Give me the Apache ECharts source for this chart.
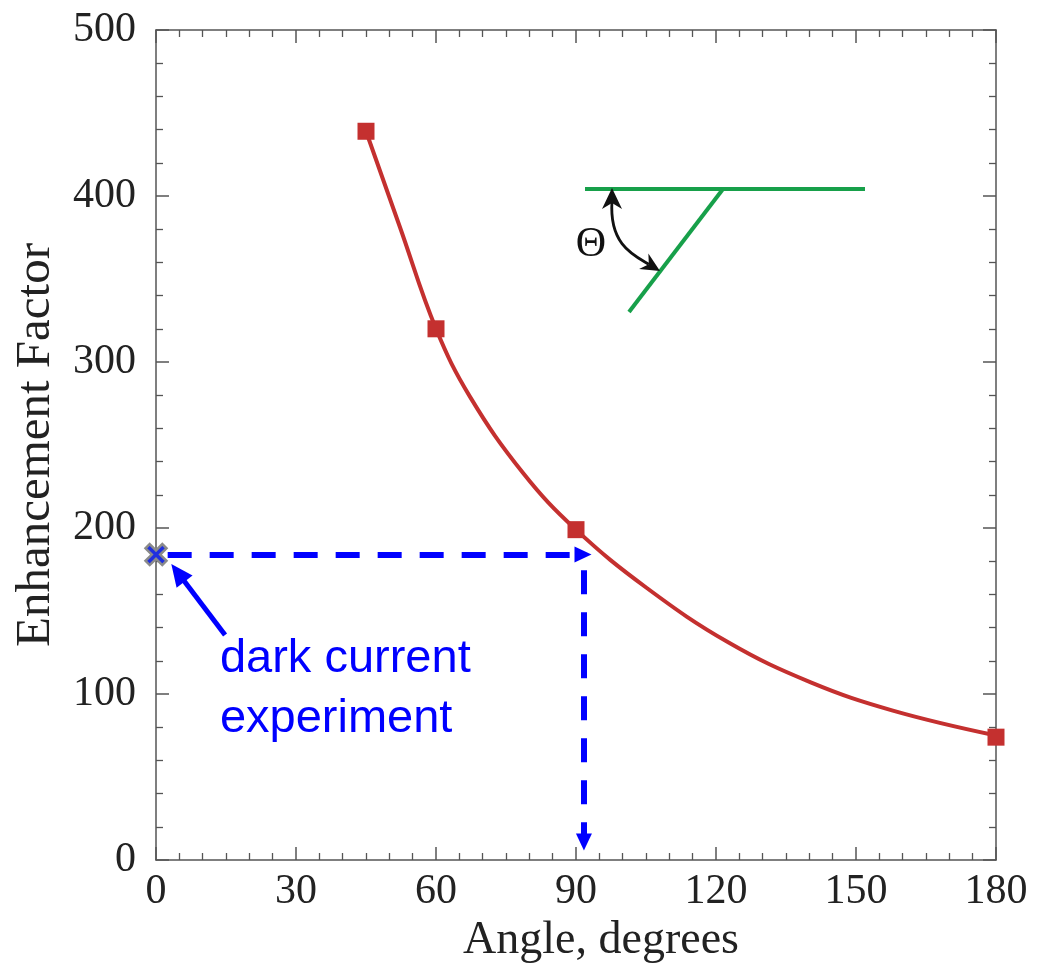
<!DOCTYPE html>
<html>
<head>
<meta charset="utf-8">
<script src="https://cdn.jsdelivr.net/npm/echarts@6/dist/echarts.min.js"></script>
<style>
html,body{margin:0;padding:0;background:#fff;}
#chart{width:1042px;height:976px;}
</style>
</head>
<body>
<div id="chart"></div>
<script>
// ---- data ----
const angles = [45, 60, 90, 180];
const factors = [439, 320, 199, 74];
const fitAngles = [45, 52.3, 60, 67.3, 78.7, 90, 105.1, 122.7, 140.3, 157.9, 180];
const fitValues = [439, 381, 320, 279, 233, 199, 164, 131, 107, 90, 75];
const xTicks = [0, 30, 60, 90, 120, 150, 180];
const yTicks = [0, 100, 200, 300, 400, 500];
const darkCurrent = [0, 184];
const hArrow = [[2.5, 184], [91.5, 184]];
const vArrow = [[91.7, 174.5], [91.7, 10.8]];
const noteArrow = [[14.8, 135.5], [4.7, 173]];
const noteText = 'dark current\nexperiment';
const noteAnchor = [13.7, 138.9];

const serif = 'Liberation Serif';
const axisColor = '#555';
const textColor = '#222';
const red = '#c4302f';
const blue = '#0000ff';
const green = '#17a04a';

const chart = echarts.init(document.getElementById('chart'), null, {renderer: 'canvas'});

function baseAxis(ticks, splitN) {
  return {
    type: 'value',
    min: ticks[0],
    max: ticks[ticks.length - 1],
    interval: ticks[1] - ticks[0],
    axisLine: {show: true, onZero: false, lineStyle: {color: axisColor, width: 1.5}},
    axisTick: {show: true, inside: true, length: 13, lineStyle: {color: axisColor, width: 1.5}},
    minorTick: {show: true, splitNumber: splitN, length: 7, lineStyle: {color: axisColor, width: 1.3}},
    splitLine: {show: false},
    minorSplitLine: {show: false}
  };
}

const xBottom = Object.assign(baseAxis(xTicks, 6), {
  position: 'bottom',
  axisLabel: {fontFamily: serif, fontSize: 42, color: textColor, margin: 11},
  name: 'Angle, degrees',
  nameLocation: 'middle',
  nameGap: 56,
  nameTextStyle: {fontFamily: serif, fontSize: 46, color: textColor, padding: [0, 0, 0, 50]}
});
const xTop = Object.assign(baseAxis(xTicks, 6), {position: 'top', axisLabel: {show: false}});
const yLeft = Object.assign(baseAxis(yTicks, 5), {
  position: 'left',
  axisLabel: {fontFamily: serif, fontSize: 42, color: textColor, margin: 20},
  name: 'Enhancement Factor',
  nameLocation: 'middle',
  nameGap: 95,
  nameTextStyle: {fontFamily: serif, fontSize: 49, color: textColor}
});
const yRight = Object.assign(baseAxis(yTicks, 5), {position: 'right', axisLabel: {show: false}});

const xPath = 'path://M2,0 L5,3 L8,0 L10,2 L7,5 L10,8 L8,10 L5,7 L2,10 L0,8 L3,5 L0,2 Z';

function arrowLine(pts, size, dash) {
  return {
    type: 'line',
    xAxisIndex: 0, yAxisIndex: 0,
    data: [],
    silent: true,
    markLine: {
      silent: true,
      symbol: ['none', 'triangle'],
      symbolSize: size,
      label: {show: false},
      lineStyle: {color: blue, width: dash ? 6 : 5, type: dash ? [24, 18] : 'solid', opacity: 1},
      emphasis: {disabled: true},
      animation: false,
      data: [[{coord: pts[0]}, {coord: pts[1]}]]
    }
  };
}

chart.setOption({
  animation: false,
  backgroundColor: '#fff',
  grid: {left: 156, right: 46, top: 30, bottom: 116, containLabel: false},
  xAxis: [xBottom, xTop],
  yAxis: [yLeft, yRight],
  series: [
    {
      type: 'line',
      xAxisIndex: 0, yAxisIndex: 0,
      data: fitAngles.map((a, i) => [a, fitValues[i]]),
      smooth: 0.4,
      showSymbol: false,
      symbol: 'none',
      lineStyle: {color: red, width: 4},
      z: 3
    },
    {
      type: 'scatter',
      xAxisIndex: 0, yAxisIndex: 0,
      data: angles.map((a, i) => [a, factors[i]]),
      symbol: 'rect',
      symbolSize: 17,
      itemStyle: {color: red, opacity: 1},
      clip: false,
      z: 4
    },
    arrowLine(hArrow, [16, 17], true),
    arrowLine(vArrow, [16, 17], true),
    arrowLine(noteArrow, [20, 22], false),
    {
      type: 'scatter',
      xAxisIndex: 0, yAxisIndex: 0,
      data: [darkCurrent],
      symbol: xPath,
      symbolSize: 21,
      itemStyle: {color: '#1f2fe0', borderColor: '#8a8a8a', borderWidth: 2.5, opacity: 1},
      clip: false,
      z: 6
    }
  ]
});

const np = chart.convertToPixel({xAxisIndex: 0, yAxisIndex: 0}, noteAnchor);

// inset diagram (pixel drawing)
const c1 = [609, 245], c2 = [634, 255.5];
const p0 = [612, 191], p3 = [660, 271];
const d = [0.857, 0.515], n = [-0.515, 0.857];
const back = [p3[0] - 19 * d[0], p3[1] - 19 * d[1]];
const notch = [p3[0] - 13 * d[0], p3[1] - 13 * d[1]];

chart.setOption({
  graphic: [
    {
      type: 'text',
      left: np[0], top: np[1],
      style: {text: noteText, fontFamily: 'Liberation Sans', fontSize: 47, lineHeight: 60, fill: blue},
      z: 10
    },
    {type: 'line', shape: {x1: 585, y1: 189, x2: 865, y2: 189}, style: {stroke: green, lineWidth: 4}, z: 10},
    {type: 'line', shape: {x1: 723, y1: 189, x2: 629, y2: 312}, style: {stroke: green, lineWidth: 4}, z: 10},
    {type: 'bezierCurve', shape: {x1: p0[0], y1: p0[1] + 10, cpx1: c1[0], cpy1: c1[1], cpx2: c2[0], cpy2: c2[1], x2: notch[0], y2: notch[1]}, style: {stroke: '#111', lineWidth: 2.8, fill: null}, z: 11},
    {type: 'polygon', shape: {points: [[612, 188], [602, 209], [612, 203], [622, 209]]}, style: {fill: '#111'}, z: 11},
    {type: 'polygon', shape: {points: [p3, [back[0] + 9 * n[0], back[1] + 9 * n[1]], notch, [back[0] - 9 * n[0], back[1] - 9 * n[1]]]}, style: {fill: '#111'}, z: 11},
    {type: 'text', x: 591, y: 245, style: {text: 'Θ', fontFamily: serif, fontSize: 42, fill: '#111', align: 'center', verticalAlign: 'middle'}, z: 11}
  ]
});
</script>
</body>
</html>
